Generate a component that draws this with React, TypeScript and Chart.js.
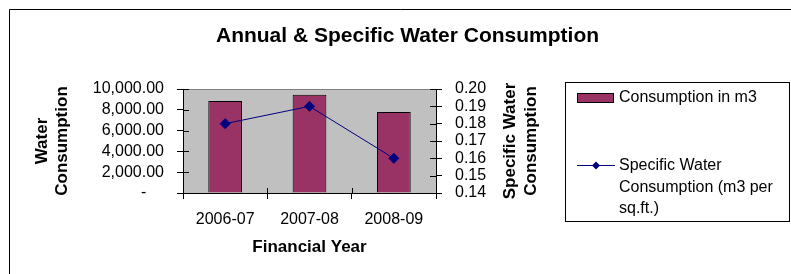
import React, { useEffect, useRef } from 'react';
import { Chart, registerables } from 'chart.js';

Chart.register(...registerables);

const chartTitle = 'Annual & Specific Water Consumption';
const categories = ['2006-07', '2007-08', '2008-09'];
const consumption = [8850, 9450, 7800];
const specific = [0.18, 0.19, 0.16];
const consumptionLabel = 'Consumption in m3';
const specificLabel = 'Specific Water Consumption (m3 per sq.ft.)';
const xTitle = 'Financial Year';
const leftTitle = ['Water', 'Consumption'];
const rightTitle = ['Specific Water', 'Consumption'];
const leftMin = 0;
const leftMax = 10000;
const leftStep = 2000;
const rightMin = 0.14;
const rightMax = 0.2;
const rightStep = 0.01;

const FONT = "'Liberation Sans', Arial, sans-serif";
const BAR_COLOR = '#993366';
const LINE_COLOR = '#000080';

function wrapText(ctx: CanvasRenderingContext2D, text: string, maxW: number): string[] {
  const words = text.split(' ');
  const lines: string[] = [];
  let cur = '';
  for (const w of words) {
    const test = cur ? cur + ' ' + w : w;
    if (ctx.measureText(test).width > maxW && cur) {
      lines.push(cur);
      cur = w;
    } else cur = test;
  }
  if (cur) lines.push(cur);
  return lines;
}

const backgroundPlugin = {
  id: 'bgPlot',
  beforeDraw(chart: any) {
    const { ctx, chartArea: a, width, height } = chart;
    ctx.save();
    ctx.fillStyle = '#ffffff';
    ctx.fillRect(0, 0, width, height);
    ctx.strokeStyle = '#000';
    ctx.lineWidth = 1;
    ctx.beginPath();
    ctx.moveTo(9.5, height);
    ctx.lineTo(9.5, 9.5);
    ctx.lineTo(width, 9.5);
    ctx.stroke();
    ctx.fillStyle = '#C0C0C0';
    ctx.fillRect(a.left, a.top, a.right - a.left, a.bottom - a.top);
    ctx.strokeStyle = '#808080';
    ctx.strokeRect(Math.round(a.left) + 0.5, Math.round(a.top) + 0.5, Math.round(a.right - a.left), Math.round(a.bottom - a.top));
    ctx.restore();
  },
  beforeDatasetsDraw(chart: any) {
    const { ctx, chartArea: a, scales } = chart;
    ctx.save();
    ctx.strokeStyle = '#000';
    ctx.lineWidth = 1;
    ctx.beginPath();
    const y = scales.y;
    y.ticks.forEach((_t: any, i: number) => {
      const p = Math.round(y.getPixelForTick(i)) + 0.5;
      ctx.moveTo(a.left, p);
      ctx.lineTo(a.left + 6, p);
    });
    const y1 = scales.y1;
    y1.ticks.forEach((_t: any, i: number) => {
      const p = Math.round(y1.getPixelForTick(i)) + 0.5;
      ctx.moveTo(a.right - 6, p);
      ctx.lineTo(a.right, p);
    });
    const x = scales.x;
    for (let i = 0; i <= categories.length; i++) {
      const p = Math.round(x.getPixelForValue(i - 0.5)) + 0.5;
      ctx.moveTo(p, a.bottom - 5);
      ctx.lineTo(p, a.bottom);
    }
    ctx.stroke();
    ctx.restore();
  },
  afterDraw(chart: any) {
    const { ctx, chartArea: a } = chart;
    ctx.save();
    ctx.fillStyle = '#000';
    ctx.font = `bold 17px ${FONT}`;
    ctx.textAlign = 'center';
    ctx.textBaseline = 'middle';
    const cy = (a.top + a.bottom) / 2;
    rightTitle.forEach((t, i) => {
      ctx.save();
      ctx.translate(a.right + 74 + i * 21, cy);
      ctx.rotate(-Math.PI / 2);
      ctx.fillText(t, 0, 0);
      ctx.restore();
    });

    const lx = 565, ly = 82, lw = 224, lh = 139;
    ctx.strokeStyle = '#000';
    ctx.lineWidth = 1;
    ctx.strokeRect(lx + 0.5, ly + 0.5, lw, lh);
    const ds = chart.data.datasets;
    const barDs = ds.find((d: any) => d.type === 'bar');
    const lineDs = ds.find((d: any) => d.type === 'line');
    ctx.font = `16px ${FONT}`;
    ctx.textAlign = 'left';
    ctx.textBaseline = 'middle';
    ctx.fillStyle = barDs.backgroundColor;
    ctx.fillRect(577, 93, 36, 9);
    ctx.strokeStyle = '#000';
    ctx.strokeRect(577.5, 93.5, 36, 9);
    ctx.fillStyle = '#000';
    wrapText(ctx, barDs.label, 166).forEach((t, i) => ctx.fillText(t, 619, 98 + i * 21.5));
    ctx.strokeStyle = lineDs.borderColor;
    ctx.beginPath();
    ctx.moveTo(577, 165.5);
    ctx.lineTo(615, 165.5);
    ctx.stroke();
    ctx.fillStyle = lineDs.borderColor;
    ctx.beginPath();
    ctx.moveTo(596, 161.5);
    ctx.lineTo(600, 165.5);
    ctx.lineTo(596, 169.5);
    ctx.lineTo(592, 165.5);
    ctx.closePath();
    ctx.fill();
    ctx.fillStyle = '#000';
    wrapText(ctx, lineDs.label, 168).forEach((t, i) => ctx.fillText(t, 619, 166 + i * 21.5));
    ctx.restore();
  },
};

export default function App() {
  const ref = useRef<HTMLCanvasElement | null>(null);
  useEffect(() => {
    const canvas = ref.current;
    if (!canvas) return;
    const chart = new Chart(canvas, {
      type: 'bar',
      data: {
        labels: categories,
        datasets: [
          {
            type: 'line',
            label: specificLabel,
            data: specific,
            yAxisID: 'y1',
            borderColor: LINE_COLOR,
            backgroundColor: LINE_COLOR,
            borderWidth: 1,
            pointStyle: 'rectRot',
            pointRadius: 5,
            pointBackgroundColor: LINE_COLOR,
            pointBorderColor: LINE_COLOR,
            tension: 0,
            order: 0,
          } as any,
          {
            type: 'bar',
            label: consumptionLabel,
            data: consumption,
            yAxisID: 'y',
            backgroundColor: BAR_COLOR,
            borderColor: '#000',
            borderWidth: 1,
            barPercentage: 0.4,
            categoryPercentage: 1,
            order: 1,
          } as any,
        ],
      },
      options: {
        responsive: false,
        animation: false,
        devicePixelRatio: 1,
        layout: { padding: { left: 24, right: 0, top: 0, bottom: 0 } },
        plugins: {
          legend: { display: false },
          tooltip: { enabled: false },
          title: {
            display: true,
            text: chartTitle,
            color: '#000',
            font: { family: FONT, size: 21, weight: 'bold', lineHeight: 1.2 },
            padding: { top: 23.5, bottom: 40.3 },
          },
        },
        scales: {
          x: {
            grid: { display: true, drawOnChartArea: false, drawTicks: true, tickLength: 6, color: '#000', offset: true },
            border: { display: true, color: '#000' },
            ticks: { color: '#000', font: { family: FONT, size: 16 }, padding: 11, maxRotation: 0 },
            title: {
              display: true,
              text: xTitle,
              color: '#000',
              font: { family: FONT, size: 17, weight: 'bold', lineHeight: 1.2 },
              padding: { top: 0, bottom: 16 },
            },
            afterFit: (s: any) => { s.height = 81; },
          },
          y: {
            position: 'left',
            min: leftMin,
            max: leftMax,
            grid: { display: true, drawOnChartArea: false, drawTicks: true, tickLength: 6, color: '#000' },
            border: { display: true, color: '#000' },
            ticks: {
              stepSize: leftStep,
              autoSkip: false,
              color: '#000',
              font: { family: FONT, size: 16, lineHeight: 1 },
              padding: 13,
              callback: (v: any) =>
                Number(v) === 0 ? '-    ' : Number(v).toLocaleString('en-US', { minimumFractionDigits: 2, maximumFractionDigits: 2 }),
            },
            title: {
              display: true,
              text: leftTitle,
              color: '#000',
              font: { family: FONT, size: 17, weight: 'bold', lineHeight: 1.2 },
              padding: { top: 8, bottom: 0 },
            },
            afterFit: (s: any) => { s.width = 159; },
          },
          y1: {
            position: 'right',
            min: rightMin,
            max: rightMax,
            grid: { display: true, drawOnChartArea: false, drawTicks: true, tickLength: 6, color: '#000' },
            border: { display: true, color: '#000' },
            ticks: {
              stepSize: rightStep,
              autoSkip: false,
              color: '#000',
              font: { family: FONT, size: 16, lineHeight: 1 },
              padding: 13,
              callback: (v: any) => Number(v).toFixed(2),
            },
            afterFit: (s: any) => { s.width = 355; },
          },
        },
      } as any,
      plugins: [backgroundPlugin],
    });
    return () => chart.destroy();
  }, []);
  return (
    <div style={{ position: 'absolute', left: 0, top: 0, width: 791, height: 274, background: '#fff' }}>
      <canvas ref={ref} width={791} height={274} style={{ display: 'block' }} />
    </div>
  );
}
